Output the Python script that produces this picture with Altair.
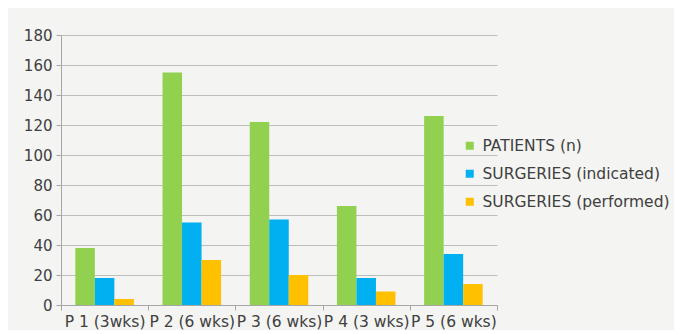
import altair as alt
import pandas as pd

categories = ["P 1 (3wks)", "P 2 (6 wks)", "P 3 (6 wks)", "P 4 (3 wks)", "P 5 (6 wks)"]
series = ["PATIENTS (n)", "SURGERIES (indicated)", "SURGERIES (performed)"]
patients = [38, 155, 122, 66, 126]
indicated = [18, 55, 57, 18, 34]
performed = [4, 30, 20, 9, 14]
colors = ["#92d050", "#00b0f0", "#ffc000"]

rows = []
for i, c in enumerate(categories):
    for s, vals in zip(series, [patients, indicated, performed]):
        rows.append({"cat": c, "series": s, "value": vals[i]})
df = pd.DataFrame(rows)

font = "DejaVu Sans"
txt = "#404040"

chart = alt.Chart(df).mark_bar().encode(
    x=alt.X("cat:N", sort=categories, title=None,
            scale=alt.Scale(paddingInner=0, paddingOuter=0),
            axis=alt.Axis(labelAngle=0, tickBand="extent", grid=False,
                          domainColor="#a6a6a6", tickColor="#a6a6a6", tickSize=5,
                          labelFont=font, labelFontSize=15.5, labelColor=txt,
                          labelPadding=4, labelLimit=0)),
    xOffset=alt.XOffset("series:N", sort=series,
                        scale=alt.Scale(paddingInner=0, paddingOuter=0.735)),
    y=alt.Y("value:Q", title=None,
            scale=alt.Scale(domain=[0, 180]),
            axis=alt.Axis(values=list(range(0, 181, 20)), gridColor="#bdbdbd",
                          domainColor="#a6a6a6", tickColor="#a6a6a6", tickSize=5,
                          labelFont=font, labelFontSize=15, labelColor=txt,
                          labelPadding=4)),
    color=alt.Color("series:N", sort=series,
                    scale=alt.Scale(domain=series, range=colors),
                    legend=alt.Legend(title=None, orient="none", legendX=401, legendY=103,
                                      symbolType="square", symbolSize=64,
                                      symbolStrokeWidth=0, labelLimit=0,
                                      labelFont=font, labelFontSize=15.5, labelColor=txt,
                                      labelOffset=5, rowPadding=11)),
).properties(
    width=436, height=270,
    background="#f4f4f2",
    padding={"left": 15, "top": 20, "right": 4, "bottom": 0},
).configure_view(stroke=None)

chart.save("out.html", embed_options={"renderer": "svg", "actions": False})
